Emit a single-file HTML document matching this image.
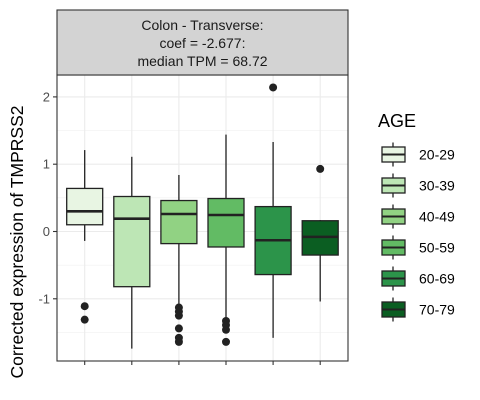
<!DOCTYPE html>
<html><head><meta charset="utf-8"><style>
html,body{margin:0;padding:0;background:#fff;width:480px;height:400px;overflow:hidden}
svg{font-family:"Liberation Sans",Arial,sans-serif}
</style></head><body>
<svg id="chart" width="480" height="400"></svg>
<script>
const categories = ["20-29","30-39","40-49","50-59","60-69","70-79"];
const colors = ["#e8f5e3","#bde6b5","#91d283","#62bb64","#2c944a","#0b5e22"];
const whiskerHigh = [1.21,1.11,0.84,1.44,1.33,0.17];
const q3Values = [0.64,0.52,0.46,0.49,0.37,0.16];
const medians = [0.30,0.19,0.26,0.245,-0.13,-0.08];
const q1Values = [0.10,-0.82,-0.18,-0.23,-0.64,-0.35];
const whiskerLow = [-0.14,-1.74,-1.12,-1.29,-1.58,-1.04];
const outliers = [[-1.11,-1.31],[],[-1.13,-1.19,-1.25,-1.44,-1.58,-1.64],[-1.33,-1.39,-1.46,-1.64],[2.14],[0.93]];
const yTicks = [-1,0,1,2];
const yTickLabels = ["-1","0","1","2"];

const NS="http://www.w3.org/2000/svg";
const svg=document.getElementById('chart');
const PL=57,PR=348,PT=75,PB=361;
const y=v=>231.5-v*67.3;
const x=i=>PL+27.7+i*47.1;
function mk(t,a,p){const e=document.createElementNS(NS,t);for(const k in a)e.setAttribute(k,a[k]);(p||svg).appendChild(e);return e;}

const panel=mk('rect',{x:PL,y:PT,width:PR-PL,height:PB-PT,fill:'#fff'});


for(let v=-1.5;v<=2.5;v+=1){const l=mk('line',{x1:PL,x2:PR,y1:y(v),y2:y(v),stroke:'#f0f0f0','stroke-width':0.6});

}
yTicks.forEach((v,i)=>{const l=mk('line',{x1:PL,x2:PR,y1:y(v),y2:y(v),stroke:'#ebebeb','stroke-width':1.1});


const t=mk('line',{x1:PL-4,x2:PL,y1:y(v),y2:y(v),stroke:'#333','stroke-width':1.1});


const tx=mk('text',{x:PL-7,y:y(v)+4.5,'text-anchor':'end','font-size':13,fill:'#4d4d4d'});tx.textContent=yTickLabels[i];

});
categories.forEach((c,i)=>{const l=mk('line',{x1:x(i),x2:x(i),y1:PT,y2:PB,stroke:'#ebebeb','stroke-width':1.1});


const t=mk('line',{x1:x(i),x2:x(i),y1:PB,y2:PB+4,stroke:'#333','stroke-width':1.1});

});
categories.forEach((c,i)=>{
 const g=mk('g',{});
 
 
 const cx=x(i),hw=18;
 mk('line',{x1:cx,x2:cx,y1:y(whiskerHigh[i]),y2:y(q3Values[i]),stroke:'#222','stroke-width':1.3},g);
 mk('line',{x1:cx,x2:cx,y1:y(q1Values[i]),y2:y(whiskerLow[i]),stroke:'#222','stroke-width':1.3},g);
 mk('rect',{x:cx-hw,y:y(q3Values[i]),width:2*hw,height:y(q1Values[i])-y(q3Values[i]),fill:colors[i],stroke:'#222','stroke-width':1.3},g);
 mk('line',{x1:cx-hw,x2:cx+hw,y1:y(medians[i]),y2:y(medians[i]),stroke:'#222','stroke-width':2.6},g);
 outliers[i].forEach(o=>{mk('circle',{cx:cx,cy:y(o),r:4,fill:'#222'},g);});
});
const border=mk('rect',{x:PL,y:PT,width:PR-PL,height:PB-PT,fill:'none',stroke:'#333','stroke-width':1.1});


const strip=mk('rect',{x:PL,y:10,width:PR-PL,height:PT-10,fill:'#d3d3d3',stroke:'#333','stroke-width':1.1});


["Colon - Transverse:","coef = -2.677:","median TPM = 68.72"].forEach((s,k)=>{
 const t=mk('text',{x:(PL+PR)/2,y:30+k*18,'text-anchor':'middle','font-size':14,fill:'#1a1a1a'});t.textContent=s;
 
 });
const yt=mk('text',{x:0,y:0,transform:'translate(23,242) rotate(-90)','text-anchor':'middle','font-size':17.5,fill:'#000'});
yt.textContent='Corrected expression of TMPRSS2';


const lt=mk('text',{x:378,y:127,'font-size':18,fill:'#000'});lt.textContent='AGE';


categories.forEach((c,i)=>{
 const g=mk('g',{});
 
 
 const cy=154.5+i*31;
 mk('line',{x1:393,x2:393,y1:cy-12,y2:cy+12,stroke:'#222','stroke-width':1.3},g);
 mk('rect',{x:382,y:cy-7.5,width:23,height:15,fill:colors[i],stroke:'#222','stroke-width':1.3},g);
 mk('line',{x1:382,x2:405,y1:cy,y2:cy,stroke:'#222','stroke-width':2},g);
 const t=mk('text',{x:419,y:cy+5,'font-size':14,fill:'#000'},g);t.textContent=c;
});
</script>
</body></html>
